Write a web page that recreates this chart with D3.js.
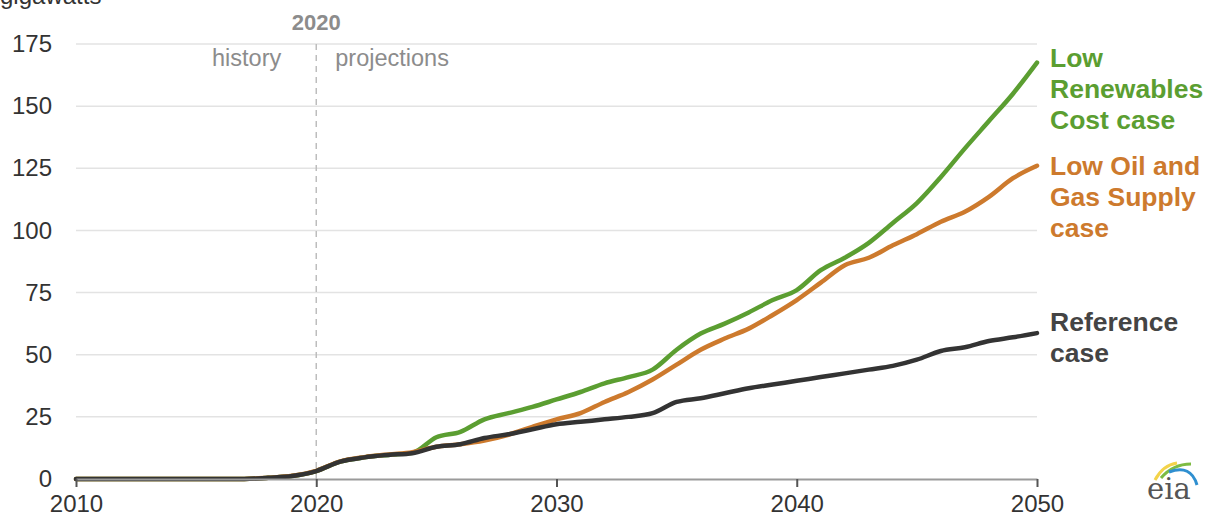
<!DOCTYPE html>
<html>
<head>
<meta charset="utf-8">
<script src="https://cdn.jsdelivr.net/npm/d3@7"></script>
<style>
  body { margin: 0; background: #fff; }
  svg { display: block; }
</style>
</head>
<body>
<div id="chart"></div>
<script>
var years = d3.range(2010, 2051);

var reference = [0, 0, 0, 0, 0, 0, 0, 0, 0.5, 1.2, 3.2, 7, 8.7, 9.7, 10.4, 13, 14, 16.5, 18, 20,
    22, 23, 24, 25, 26.5, 31, 32.5, 34.5, 36.5, 38, 39.5, 41, 42.5, 44, 45.5, 48, 51.5, 53, 55.5, 57, 58.7];
var lowOilGas = [0, 0, 0, 0, 0, 0, 0, 0, 0.5, 1.3, 3.3, 7.1, 8.8, 9.9, 10.8, 13, 14, 15.5, 17.8, 21,
    24, 26.5, 31, 35, 40, 46, 52, 56.5, 60.5, 66, 72, 79, 86, 89, 94, 98.5, 103.5, 107.5, 113.5, 121, 126];
var lowRenew = [0, 0, 0, 0, 0, 0, 0, 0, 0.5, 1.2, 3.2, 7, 8.7, 9.7, 10.5, 16.8, 19, 24, 26.5, 29,
    32, 35, 38.5, 41, 44, 52, 58.5, 62.5, 67, 72, 76, 84, 89, 95, 103, 111, 121.5, 133, 144, 155, 167.5];

var yTicks = [0, 25, 50, 75, 100, 125, 150, 175];
var xTicks = [2010, 2020, 2030, 2040, 2050];

var series = [
  {name: "lowRenew", values: lowRenew, color: "#5b9e31", label: ["Low", "Renewables", "Cost case"]},
  {name: "lowOilGas", values: lowOilGas, color: "#cd7a2d", label: ["Low Oil and", "Gas Supply", "case"]},
  {name: "reference", values: reference, color: "#333333", label: ["Reference", "case"]}
];

var svgWidth = 1211, svgHeight = 525;
var x = d3.scaleLinear().domain([2010, 2050]).range([76, 1037]);
var y = d3.scaleLinear().domain([0, 175]).range([479, 44]);

var svg = d3.select("#chart").append("svg")
    .attr("width", svgWidth)
    .attr("height", svgHeight)
    .style("font-family", "'Liberation Sans', Arial, sans-serif");

// unit label, cut off at the top like the original
svg.append("text")
    .attr("x", 0)
    .attr("y", 4)
    .attr("font-size", 24)
    .attr("fill", "#333")
    .text("gigawatts");

// gridlines
svg.append("g")
  .selectAll("line")
  .data(yTicks.filter(d => d > 0))
  .join("line")
    .attr("x1", x(2010))
    .attr("x2", x(2050))
    .attr("y1", d => y(d))
    .attr("y2", d => y(d))
    .attr("stroke", "#e3e3e3")
    .attr("stroke-width", 1.5);

// y axis labels
var yAxis = svg.append("g")
    .attr("transform", "translate(" + x(2010) + ",0)")
    .call(d3.axisLeft(y).tickValues(yTicks).tickSize(0).tickPadding(24));
yAxis.select(".domain").remove();
yAxis.selectAll("text")
    .attr("font-size", 24)
    .attr("fill", "#333");

// history / projections divider
svg.append("line")
    .attr("x1", x(2020))
    .attr("x2", x(2020))
    .attr("y1", y(175))
    .attr("y2", y(0))
    .attr("stroke", "#bdbdbd")
    .attr("stroke-width", 1.5)
    .attr("stroke-dasharray", "6,5");

svg.append("text")
    .attr("x", x(2020))
    .attr("y", 30)
    .attr("text-anchor", "middle")
    .attr("font-size", 22)
    .attr("font-weight", "bold")
    .attr("fill", "#8c8c8c")
    .text("2020");

svg.append("text")
    .attr("x", x(2020) - 35)
    .attr("y", 66)
    .attr("text-anchor", "end")
    .attr("font-size", 23.5)
    .attr("fill", "#8c8c8c")
    .text("history");

svg.append("text")
    .attr("x", x(2020) + 19)
    .attr("y", 66)
    .attr("font-size", 23.5)
    .attr("fill", "#8c8c8c")
    .text("projections");

// lines
var line = d3.line()
    .x((d, i) => x(years[i]))
    .y(d => y(d))
    .curve(d3.curveMonotoneX);

svg.append("g")
  .selectAll("path")
  .data(series)
  .join("path")
    .attr("fill", "none")
    .attr("stroke", d => d.color)
    .attr("stroke-width", 4.5)
    .attr("stroke-linejoin", "round")
    .attr("stroke-linecap", "round")
    .attr("d", d => line(d.values));

// x axis
var xAxis = svg.append("g")
    .attr("transform", "translate(0," + y(0) + ")")
    .call(d3.axisBottom(x).tickValues(xTicks).tickFormat(d3.format("d")).tickSize(8).tickSizeOuter(0).tickPadding(8));
xAxis.select(".domain").attr("stroke", "#9a9a9a").attr("stroke-width", 2);
xAxis.selectAll(".tick line").attr("stroke", "#555").attr("stroke-width", 2);
xAxis.selectAll("text")
    .attr("font-size", 24)
    .attr("fill", "#333");

// series labels at the right
var labelTop = {lowRenew: 67, lowOilGas: 175, reference: 331};
series.forEach(function(s) {
  var t = svg.append("text")
      .attr("x", 1050)
      .attr("y", labelTop[s.name])
      .attr("font-size", 26.5)
      .attr("font-weight", "bold")
      .attr("fill", s.color === "#333333" ? "#444" : s.color);
  s.label.forEach(function(l, i) {
    t.append("tspan").attr("x", 1050).attr("dy", i === 0 ? 0 : 31).text(l);
  });
});

// eia logo
var logo = svg.append("g").attr("transform", "translate(1147,470)");
logo.append("path").attr("d", "M8,10 Q16,-5 30,-7").attr("fill", "none").attr("stroke", "#f3d34a").attr("stroke-width", 3);
logo.append("path").attr("d", "M14,8 Q26,-6 44,-6").attr("fill", "none").attr("stroke", "#7dbb42").attr("stroke-width", 3);
logo.append("path").attr("d", "M22,2 Q44,-6 50,15").attr("fill", "none").attr("stroke", "#2f8fd0").attr("stroke-width", 3);
logo.append("text")
    .attr("x", 0)
    .attr("y", 29)
    .attr("font-family", "'DejaVu Serif', 'Liberation Serif', serif")
    .attr("font-size", 29)
    .attr("fill", "#555")
    .text("eia");
</script>
</body>
</html>
